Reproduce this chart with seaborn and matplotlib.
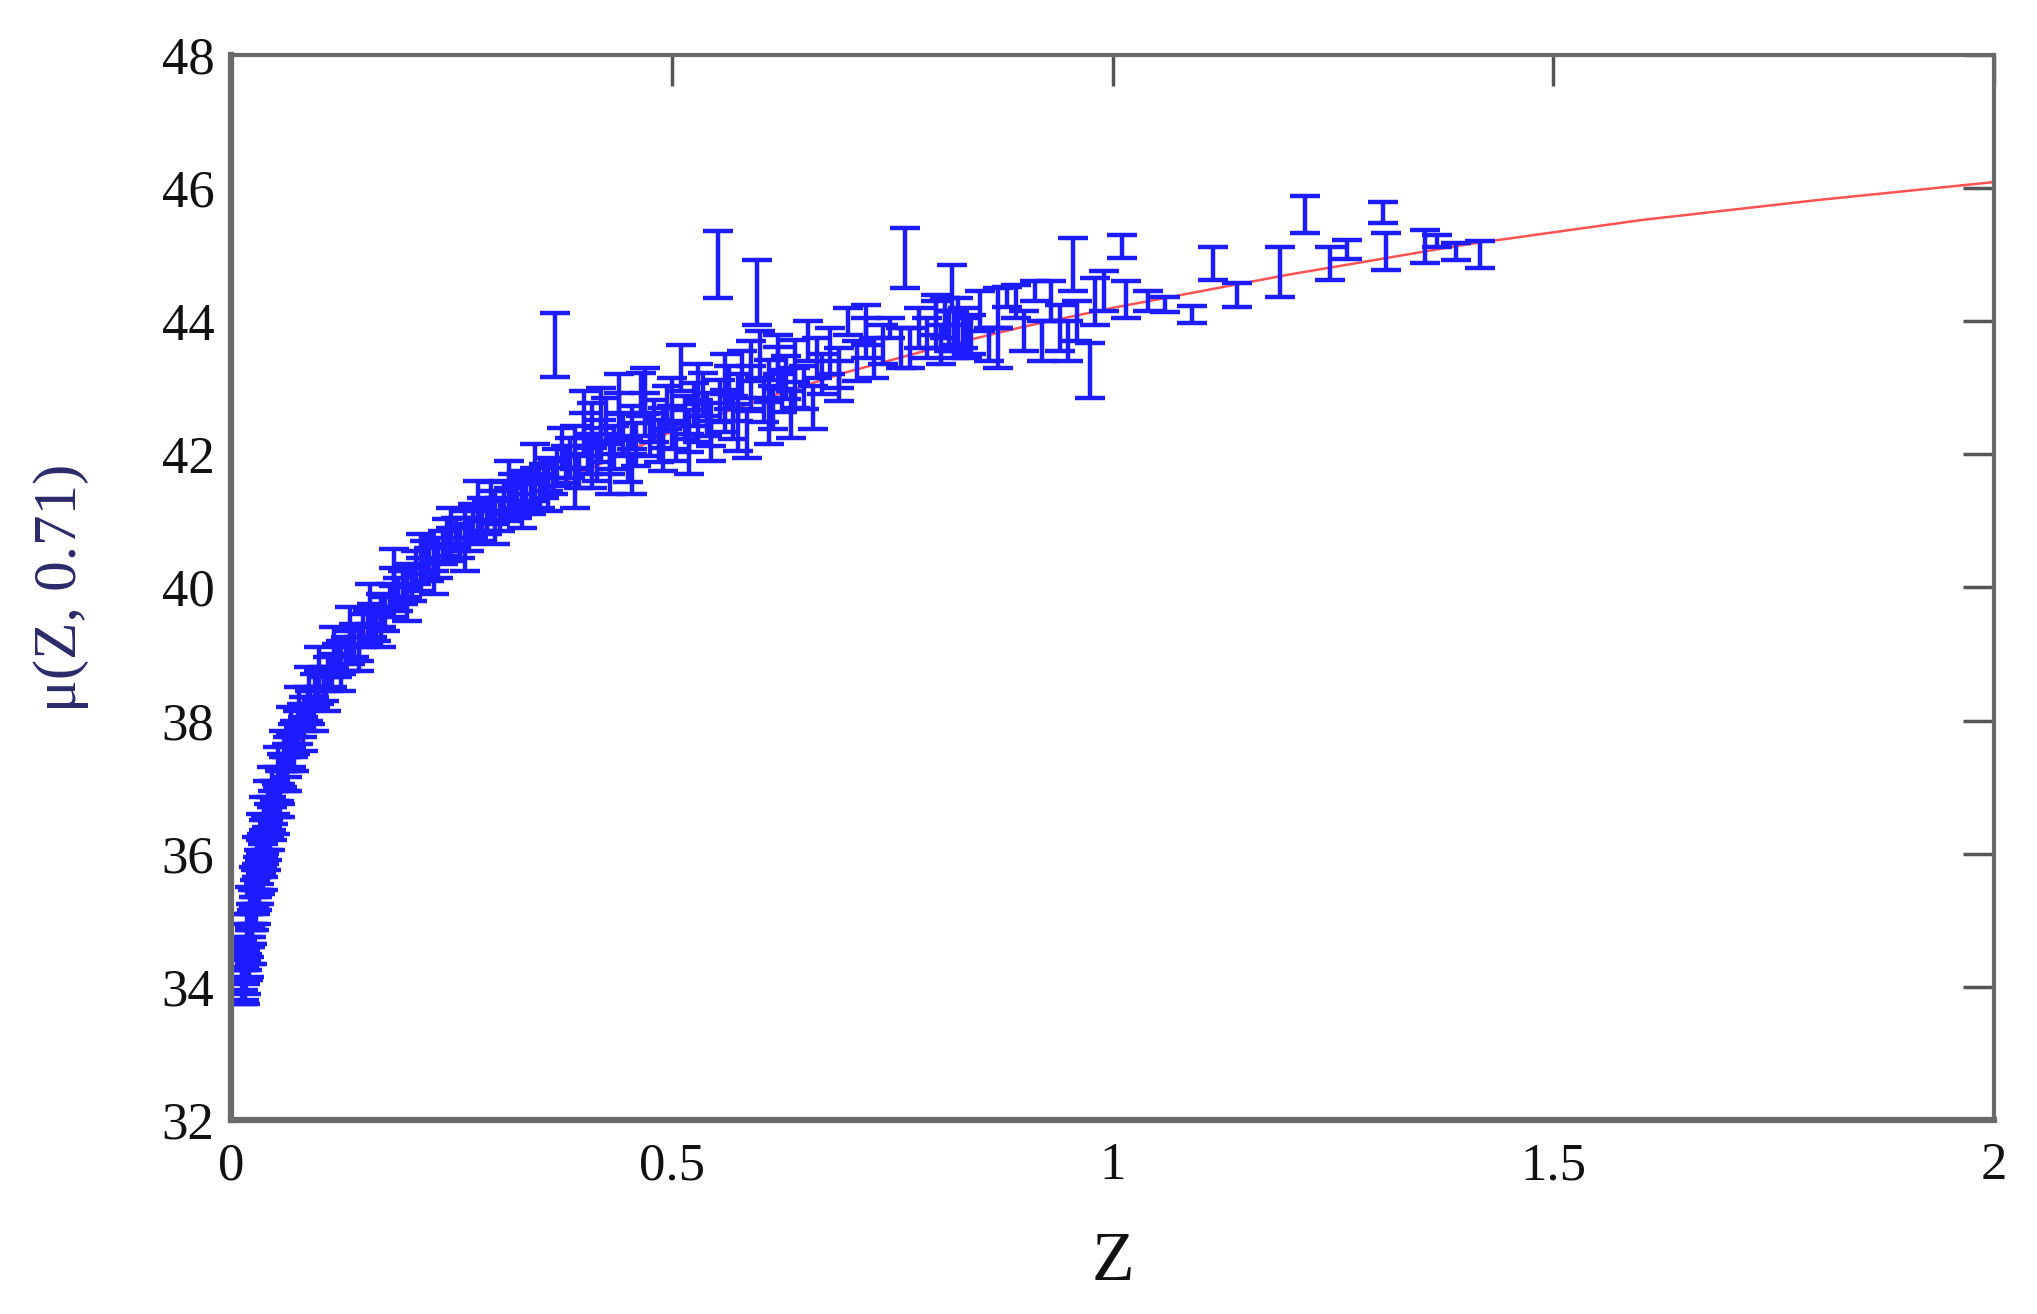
import numpy as np
import pandas as pd
import matplotlib
matplotlib.use("Agg")
import matplotlib.pyplot as plt
import seaborn as sns

# -------- data --------
# supernova redshifts, distance moduli and 1-sigma errors
z_obs = [
    0.012, 0.014, 0.015, 0.016, 0.017, 0.018, 0.019, 0.020, 0.021, 0.022,
    0.023, 0.024, 0.025, 0.026, 0.027, 0.028, 0.029, 0.030, 0.031, 0.032,
    0.033, 0.034, 0.035, 0.036, 0.037, 0.038, 0.040, 0.041, 0.043, 0.045,
    0.046, 0.048, 0.050, 0.052, 0.054, 0.056, 0.058, 0.060, 0.063, 0.065,
    0.068, 0.070, 0.073, 0.076, 0.080, 0.083, 0.087, 0.090, 0.095, 0.100,
    0.105, 0.110, 0.115, 0.120, 0.125, 0.130, 0.135, 0.140, 0.145, 0.150,
    0.155, 0.160, 0.165, 0.170, 0.175, 0.180, 0.185, 0.190, 0.195, 0.200,
    0.205, 0.210, 0.215, 0.220, 0.225, 0.230, 0.235, 0.240, 0.245, 0.250,
    0.255, 0.260, 0.265, 0.270, 0.275, 0.280, 0.285, 0.290, 0.295, 0.300,
    0.305, 0.310, 0.315, 0.320, 0.325, 0.330, 0.335, 0.340, 0.345, 0.350,
    0.355, 0.360, 0.365, 0.368, 0.370, 0.380, 0.385, 0.390, 0.395, 0.400,
    0.405, 0.410, 0.415, 0.420, 0.425, 0.430, 0.435, 0.440, 0.445, 0.450,
    0.455, 0.460, 0.465, 0.470, 0.475, 0.480, 0.485, 0.490, 0.495, 0.500,
    0.505, 0.510, 0.515, 0.520, 0.525, 0.530, 0.535, 0.540, 0.545, 0.552,
    0.555, 0.560, 0.565, 0.570, 0.575, 0.580, 0.585, 0.590, 0.597, 0.600,
    0.605, 0.610, 0.615, 0.620, 0.625, 0.630, 0.635, 0.640, 0.650, 0.660,
    0.665, 0.670, 0.680, 0.690, 0.700, 0.710, 0.720, 0.730, 0.740, 0.748,
    0.765, 0.770, 0.780, 0.790, 0.800, 0.805, 0.810, 0.815, 0.818, 0.820,
    0.830, 0.840, 0.850, 0.860, 0.870, 0.880, 0.890, 0.900, 0.912, 0.920,
    0.930, 0.940, 0.950, 0.955, 0.960, 0.975, 0.980, 0.990, 1.011, 1.015,
    1.040, 1.060, 1.090, 1.114, 1.141, 1.190, 1.218, 1.247, 1.266, 1.307,
    1.310, 1.354, 1.368, 1.390, 1.417,
]
mu_obs = [
    34.00, 34.20, 34.05, 34.30, 34.15, 34.50, 34.35, 34.70, 34.60, 34.85,
    35.00, 34.90, 35.20, 35.10, 35.35, 35.50, 35.40, 35.60, 35.70, 35.80,
    35.65, 35.95, 36.05, 35.90, 36.10, 36.25, 36.30, 36.15, 36.50, 36.60,
    36.45, 36.70, 36.85, 36.80, 37.05, 37.00, 37.25, 37.20, 37.40, 37.50,
    37.55, 37.70, 37.75, 37.90, 38.00, 38.10, 38.25, 38.20, 38.45, 38.50,
    38.55, 38.70, 38.75, 38.90, 38.95, 39.00, 39.10, 39.20, 39.15, 39.35,
    39.40, 39.50, 39.45, 39.65, 39.60, 39.80, 40.30, 39.90, 40.00, 40.10,
    40.05, 40.30, 40.20, 40.45, 40.35, 40.50, 40.40, 40.60, 40.75, 40.65,
    40.80, 40.70, 40.90, 40.80, 41.00, 40.95, 41.10, 41.05, 41.30, 41.20,
    41.10, 41.35, 41.25, 41.45, 41.30, 41.40, 41.50, 41.35, 41.55, 41.45,
    41.60, 41.70, 41.65, 43.64, 41.80, 41.85, 41.95, 42.10, 41.75, 42.30,
    42.00, 42.45, 41.90, 42.20, 42.50, 41.70, 42.10, 42.60, 42.30, 41.90,
    42.40, 42.15, 42.90, 42.60, 42.30, 42.50, 42.20, 42.05, 42.70, 42.40,
    42.20, 43.30, 42.55, 42.35, 42.75, 42.50, 42.90, 42.60, 42.45, 44.85,
    42.80, 42.65, 43.00, 42.55, 42.85, 43.20, 42.30, 43.00, 44.43, 43.50,
    42.80, 43.10, 42.70, 43.30, 42.95, 43.15, 42.60, 43.40, 43.00, 42.70,
    43.45, 43.20, 43.55, 43.30, 44.00, 43.40, 43.75, 43.45, 43.65, 43.90,
    44.95, 43.60, 43.90, 43.75, 43.95, 43.65, 44.05, 43.85, 44.50, 43.70,
    43.90, 43.80, 44.15, 43.65, 44.20, 44.36, 44.30, 43.85, 44.46, 43.70,
    44.30, 43.90, 43.70, 44.85, 44.00, 43.26, 44.30, 44.45, 45.12, 44.33,
    44.30, 44.25, 44.10, 44.87, 44.40, 44.74, 45.60, 44.87, 45.08, 45.63,
    45.05, 45.12, 45.20, 45.05, 45.00,
]
mu_err = [
    0.25, 0.25, 0.25, 0.25, 0.25, 0.25, 0.25, 0.25, 0.25, 0.25,
    0.25, 0.25, 0.25, 0.25, 0.25, 0.25, 0.25, 0.25, 0.25, 0.25,
    0.25, 0.25, 0.25, 0.25, 0.25, 0.25, 0.25, 0.25, 0.25, 0.25,
    0.25, 0.25, 0.25, 0.25, 0.25, 0.25, 0.25, 0.25, 0.25, 0.25,
    0.25, 0.25, 0.25, 0.25, 0.25, 0.25, 0.25, 0.25, 0.25, 0.25,
    0.25, 0.25, 0.25, 0.25, 0.25, 0.25, 0.25, 0.25, 0.25, 0.25,
    0.25, 0.25, 0.25, 0.25, 0.25, 0.25, 0.28, 0.25, 0.25, 0.25,
    0.25, 0.25, 0.25, 0.25, 0.25, 0.25, 0.25, 0.25, 0.28, 0.25,
    0.25, 0.25, 0.25, 0.25, 0.25, 0.25, 0.25, 0.25, 0.28, 0.25,
    0.25, 0.25, 0.25, 0.25, 0.25, 0.25, 0.25, 0.25, 0.25, 0.25,
    0.25, 0.25, 0.25, 0.48, 0.28, 0.28, 0.30, 0.32, 0.25, 0.32,
    0.30, 0.32, 0.30, 0.32, 0.35, 0.30, 0.32, 0.32, 0.32, 0.32,
    0.32, 0.32, 0.32, 0.32, 0.32, 0.32, 0.32, 0.30, 0.32, 0.32,
    0.30, 0.35, 0.32, 0.32, 0.32, 0.32, 0.32, 0.32, 0.32, 0.50,
    0.32, 0.32, 0.32, 0.32, 0.35, 0.35, 0.35, 0.32, 0.49, 0.35,
    0.32, 0.32, 0.32, 0.32, 0.32, 0.32, 0.35, 0.32, 0.32, 0.32,
    0.30, 0.30, 0.35, 0.30, 0.20, 0.30, 0.30, 0.30, 0.30, 0.15,
    0.45, 0.30, 0.30, 0.30, 0.35, 0.30, 0.30, 0.30, 0.34, 0.25,
    0.30, 0.30, 0.30, 0.25, 0.30, 0.15, 0.25, 0.30, 0.15, 0.30,
    0.30, 0.35, 0.30, 0.40, 0.30, 0.41, 0.35, 0.30, 0.17, 0.28,
    0.15, 0.11, 0.13, 0.25, 0.18, 0.38, 0.28, 0.25, 0.14, 0.16,
    0.28, 0.25, 0.09, 0.13, 0.20,
]

# second batch of points inside the dense band
z_obs2 = [
    0.013, 0.016, 0.018, 0.020, 0.022, 0.024, 0.026, 0.028, 0.030, 0.032,
    0.034, 0.036, 0.038, 0.040, 0.042, 0.044, 0.047, 0.050, 0.053, 0.056,
    0.060, 0.064, 0.068, 0.072, 0.077, 0.082, 0.088, 0.094, 0.100, 0.108,
    0.117, 0.125, 0.135, 0.145, 0.158, 0.170, 0.185, 0.200, 0.215, 0.230,
    0.250, 0.265, 0.280, 0.300, 0.315, 0.330, 0.345, 0.360, 0.375, 0.390,
    0.400, 0.410, 0.420, 0.430, 0.440, 0.455, 0.470, 0.490, 0.500, 0.520,
    0.530, 0.545, 0.560, 0.575, 0.590, 0.610, 0.620, 0.640, 0.655, 0.690,
    0.720, 0.760, 0.800, 0.820, 0.825, 0.835, 0.870,
]
mu_obs2 = [
    34.40, 34.00, 34.80, 34.40, 35.20, 34.60, 35.50, 35.20, 35.95, 35.50,
    36.30, 35.70, 36.55, 36.00, 36.80, 36.30, 37.00, 36.55, 37.30, 36.80,
    37.55, 37.20, 37.90, 37.50, 38.20, 37.80, 38.50, 38.10, 38.80, 38.40,
    39.10, 38.70, 39.40, 39.00, 39.75, 39.35, 40.00, 39.75, 40.50, 40.15,
    40.90, 40.50, 41.30, 40.90, 41.60, 41.15, 41.85, 41.40, 42.10, 41.50,
    42.60, 41.80, 42.70, 42.00, 42.90, 41.70, 42.95, 42.40, 42.80, 42.00,
    43.05, 42.20, 43.20, 42.40, 43.40, 42.50, 43.50, 43.00, 43.70, 43.10,
    43.95, 43.60, 44.10, 43.85, 44.00, 43.75, 43.60,
]
mu_err2 = [
    0.30, 0.25, 0.30, 0.25, 0.30, 0.25, 0.30, 0.25, 0.30, 0.25,
    0.30, 0.25, 0.30, 0.25, 0.30, 0.25, 0.30, 0.25, 0.30, 0.25,
    0.30, 0.25, 0.30, 0.25, 0.30, 0.25, 0.30, 0.25, 0.30, 0.25,
    0.30, 0.25, 0.30, 0.25, 0.30, 0.25, 0.30, 0.25, 0.30, 0.25,
    0.30, 0.25, 0.30, 0.25, 0.30, 0.25, 0.30, 0.25, 0.30, 0.30,
    0.35, 0.30, 0.30, 0.30, 0.30, 0.30, 0.35, 0.30, 0.35, 0.30,
    0.30, 0.30, 0.30, 0.35, 0.30, 0.35, 0.30, 0.30, 0.30, 0.30,
    0.30, 0.30, 0.30, 0.30, 0.35, 0.30, 0.30,
]

# model curve mu(Z, 0.71)
z_model = [0.015, 0.020, 0.030, 0.040, 0.050, 0.070, 0.100, 0.150,
           0.200, 0.250, 0.300, 0.400, 0.500, 0.600, 0.700, 0.800, 0.900,
           1.000, 1.200, 1.400, 1.600, 1.800, 2.000]
mu_model = [34.05, 34.68, 35.57, 36.21, 36.71, 37.48, 38.32, 39.28,
            39.98, 40.53, 41.00, 41.74, 42.34, 42.82, 43.24, 43.60, 43.92,
            44.20, 44.70, 45.15, 45.52, 45.82, 46.09]

x_ticks = [0, 0.5, 1, 1.5, 2]
x_tick_labels = ["0", "0.5", "1", "1.5", "2"]
y_ticks = [32, 34, 36, 38, 40, 42, 44, 46, 48]

obs = pd.DataFrame({"Z": z_obs + z_obs2, "mu": mu_obs + mu_obs2,
                    "err": mu_err + mu_err2})
model = pd.DataFrame({"Z": z_model, "mu": mu_model})

# -------- plot --------
sns.set_style("white")
plt.rcParams["font.family"] = ["Liberation Serif", "DejaVu Serif"]

fig = plt.figure(figsize=(20.37, 13.14), dpi=100)
ax = fig.add_axes([0.1134, 0.1476, 0.8655, 0.8106])

# model curve sits under the error bars, as in the reference
sns.lineplot(data=model, x="Z", y="mu", color="#ff5252", linewidth=1.8,
             ax=ax, zorder=1)
ax.errorbar(obs["Z"], obs["mu"], yerr=obs["err"], fmt="none",
            ecolor="#1c1cff", elinewidth=3.2, capsize=11, capthick=3.2,
            zorder=2)

ax.set_xlim(0, 2)
ax.set_ylim(32, 48)
ax.set_xticks(x_ticks)
ax.set_xticklabels(x_tick_labels)
ax.set_yticks(y_ticks)

ax.tick_params(axis="both", direction="in", length=22, width=2.5,
               color="#555555", labelsize=38, labelcolor="#111111",
               top=True, right=True)
ax.tick_params(axis="x", pad=16)
ax.tick_params(axis="y", pad=12)

for side in ["left", "bottom"]:
    ax.spines[side].set_color("#6a6a6a")
    ax.spines[side].set_linewidth(4.5)
for side in ["top", "right"]:
    ax.spines[side].set_color("#6a6a6a")
    ax.spines[side].set_linewidth(3.0)

ax.set_xlabel("Z", fontsize=50, color="#111111", labelpad=30)
ax.set_ylabel("\u03bc(Z, 0.71)", fontsize=44, color="#2b2b6b", labelpad=52)

fig.savefig("out.png", dpi=100)
